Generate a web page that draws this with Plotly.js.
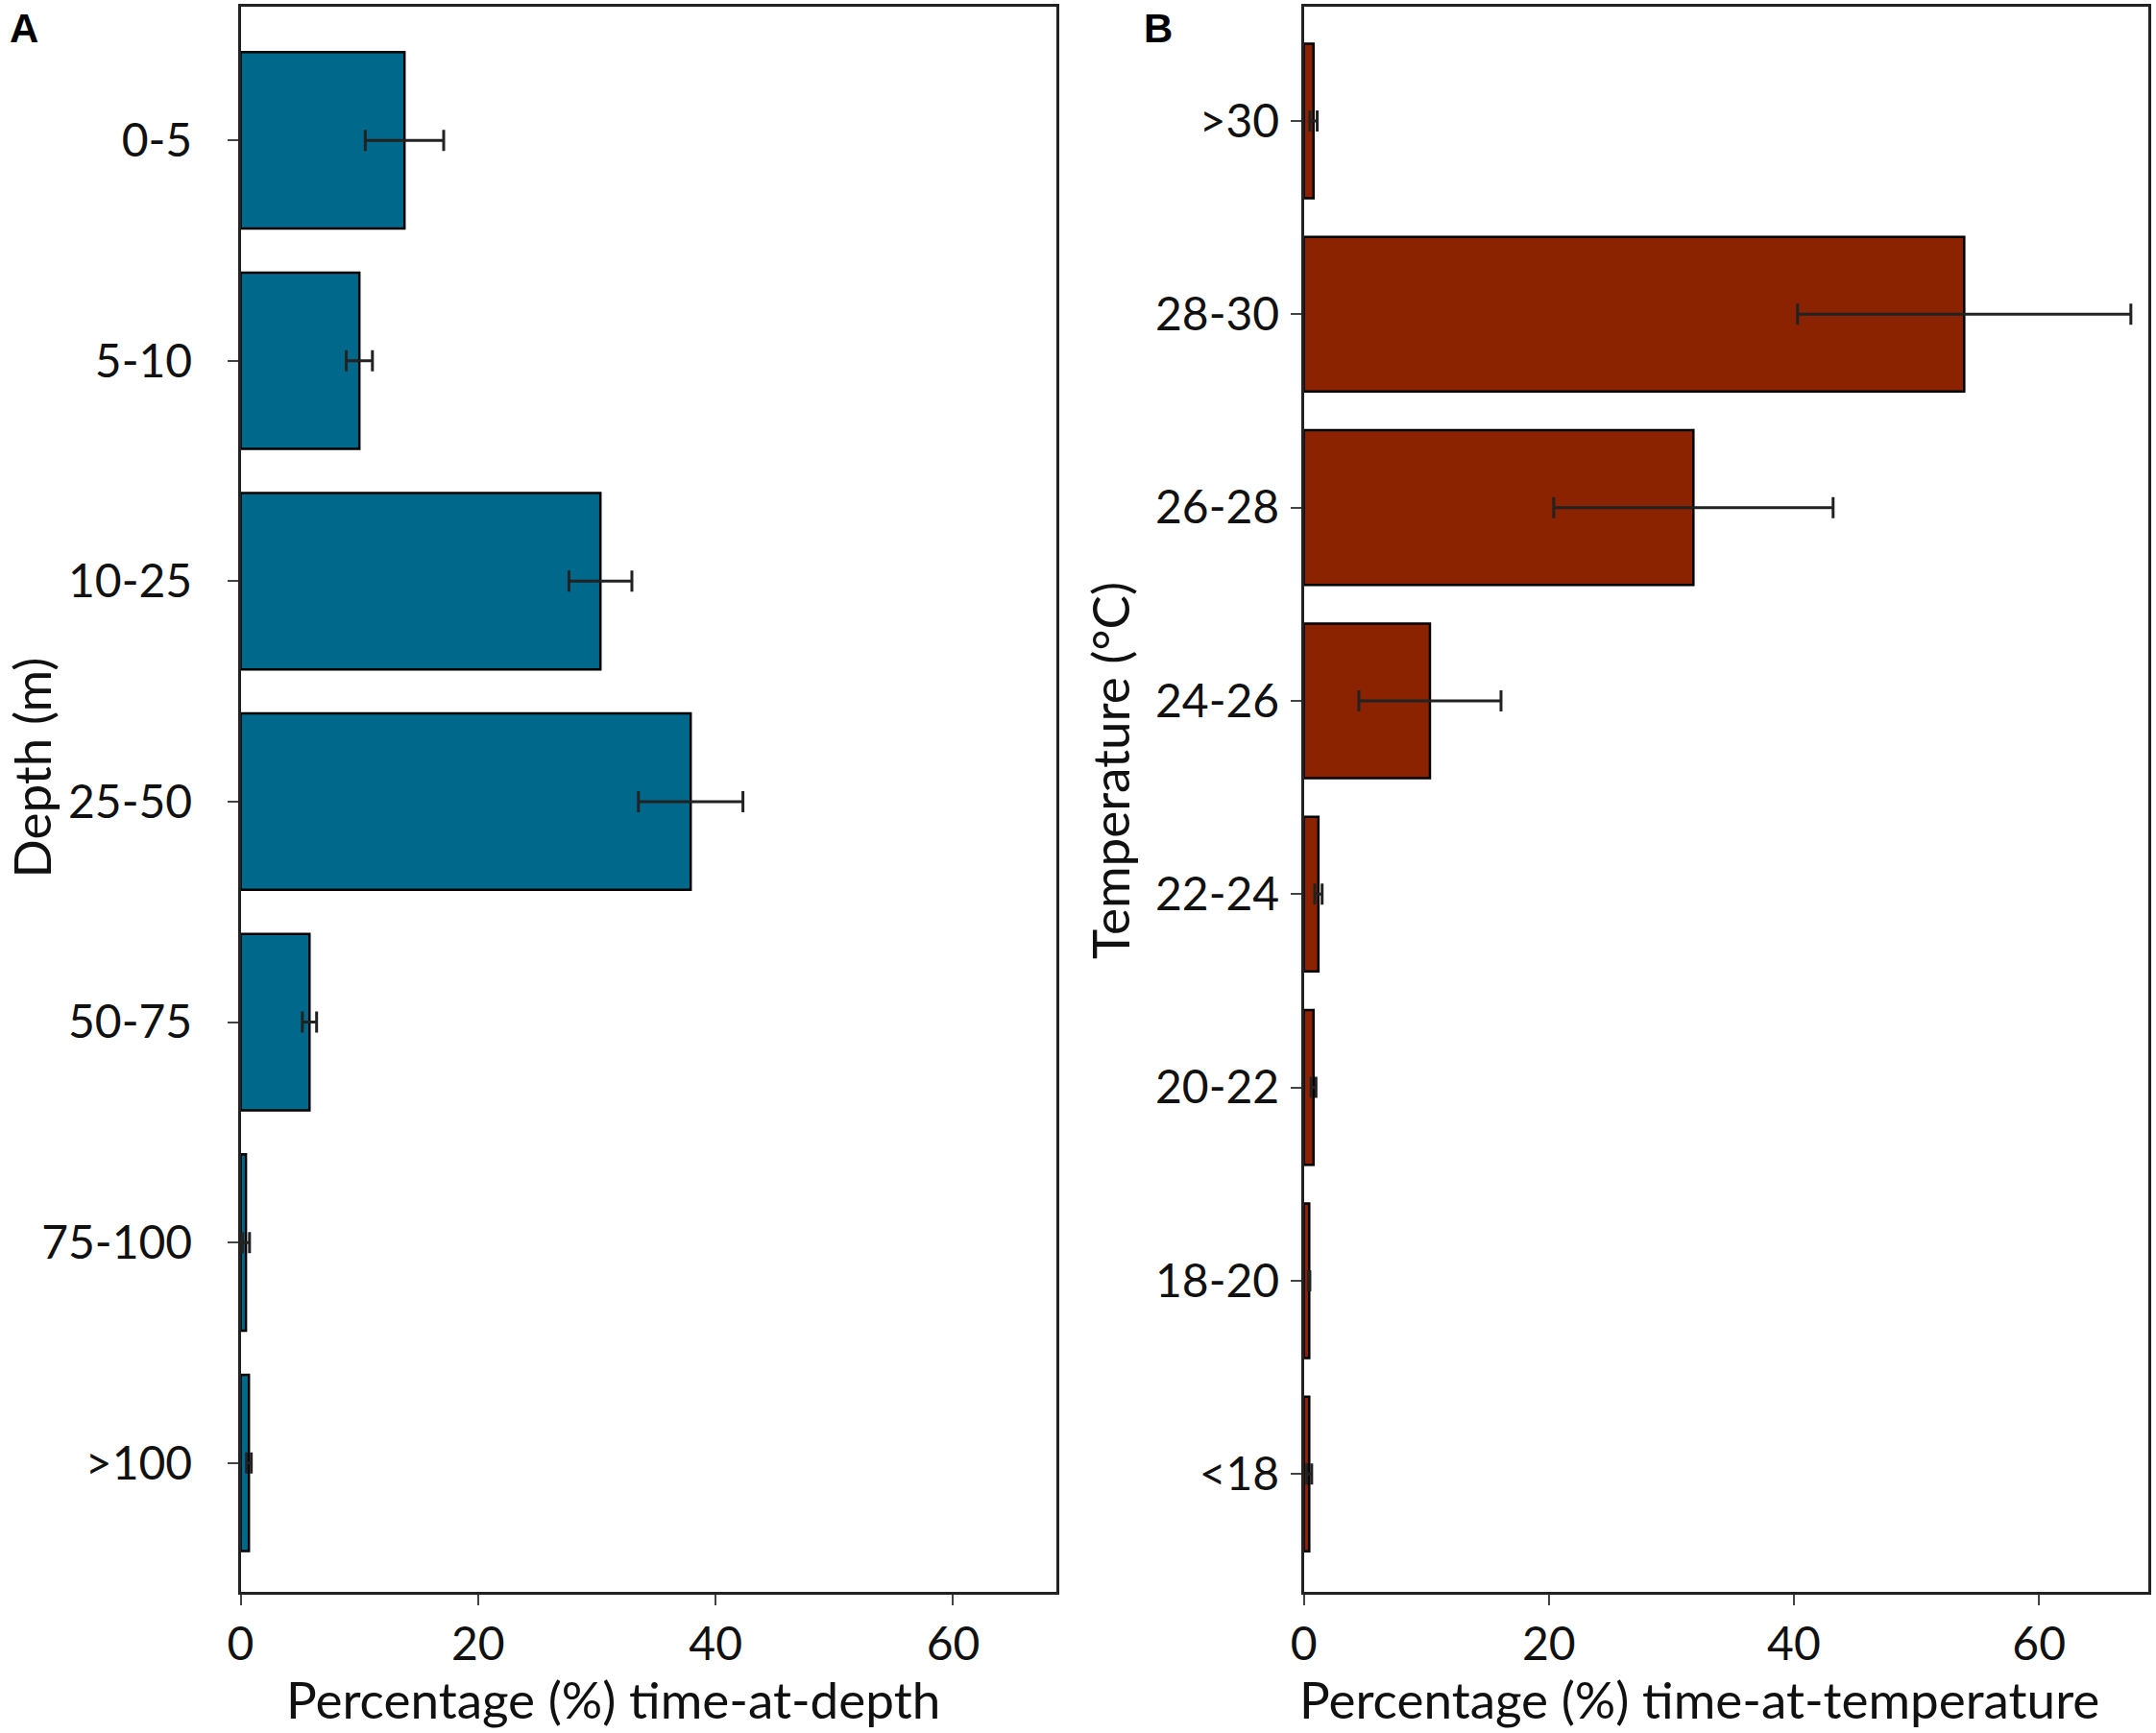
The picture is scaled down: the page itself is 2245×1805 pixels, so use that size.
<!DOCTYPE html>
<html>
<head>
<meta charset="utf-8">
<script src="https://cdn.plot.ly/plotly-3.0.1.min.js"></script>
<style>
  html, body { margin: 0; padding: 0; background: #fff; }
  #chart { width: 2245px; height: 1805px; }
</style>
</head>
<body>
<div id="chart"></div>
<script>
// Panel A: time-at-depth
const depth_bins = ['0-5', '5-10', '10-25', '25-50', '50-75', '75-100', '>100'];
const depth_pct = [13.8, 10.0, 30.3, 37.9, 5.8, 0.45, 0.7];
const depth_err = [3.3, 1.1, 2.65, 4.4, 0.6, 0.3, 0.2];

// Panel B: time-at-temperature
const temp_bins = ['>30', '28-30', '26-28', '24-26', '22-24', '20-22', '18-20', '<18'];
const temp_pct = [0.8, 53.9, 31.8, 10.3, 1.2, 0.8, 0.45, 0.45];
const temp_err = [0.3, 13.6, 11.4, 5.8, 0.3, 0.2, 0.05, 0.2];

const x_ticks = [0, 20, 40, 60];

const font_family = 'Lato, "Open Sans", sans-serif';
const ink = '#111';

function barTrace(cats, vals, errs, color, xa, ya) {
    return {
        type: 'bar',
        orientation: 'h',
        y: cats,
        x: vals,
        xaxis: xa,
        yaxis: ya,
        width: 0.8,
        marker: {color: color, line: {color: '#000', width: 2.5}},
        error_x: {type: 'data', array: errs, visible: true, color: '#222', thickness: 3, width: 11},
        hoverinfo: 'x+y',
        showlegend: false
    };
}

const frame = {
    showline: true, mirror: true, linecolor: '#222', linewidth: 2.5,
    ticks: 'outside', ticklen: 11, tickwidth: 2, tickcolor: '#444',
    showgrid: false, zeroline: false, fixedrange: true,
    tickfont: {family: font_family, size: 48, color: ink}
};

const data = [
    barTrace(depth_bins, depth_pct, depth_err, '#00688B', 'x', 'y'),
    barTrace(temp_bins, temp_pct, temp_err, '#8B2300', 'x2', 'y2')
];

const panel_font = {family: '"Liberation Sans", Arial, sans-serif', size: 42, color: '#000', weight: 'bold'};

const layout = {
    width: 2245,
    height: 1805,
    margin: {t: 0, l: 0, r: 0, b: 0},
    paper_bgcolor: '#fff',
    plot_bgcolor: '#fff',
    font: {family: font_family, color: ink},
    xaxis: Object.assign({}, frame, {
        domain: [0.1116, 0.49], range: [0, 68.7], tickvals: x_ticks, anchor: 'y'
    }),
    yaxis: Object.assign({}, frame, {
        domain: [0.0814, 0.996], type: 'category', categoryarray: depth_bins,
        range: [6.585, -0.605], ticklabelstandoff: 27, anchor: 'x'
    }),
    xaxis2: Object.assign({}, frame, {
        domain: [0.6047, 0.9963], range: [0, 68.9], tickvals: x_ticks, anchor: 'y2'
    }),
    yaxis2: Object.assign({}, frame, {
        domain: [0.0814, 0.996], type: 'category', categoryarray: temp_bins,
        range: [7.61, -0.59], ticklabelstandoff: 2, anchor: 'x2'
    }),
    annotations: [
        {text: 'A', x: 0.0111, y: 0.9834, xref: 'paper', yref: 'paper', xanchor: 'center', yanchor: 'middle',
         showarrow: false, font: panel_font},
        {text: 'B', x: 0.5372, y: 0.9834, xref: 'paper', yref: 'paper', xanchor: 'center', yanchor: 'middle',
         showarrow: false, font: panel_font},
        {text: 'Depth (m)', textangle: -90, x: 0.0145, y: 0.5568, xref: 'paper', yref: 'paper',
         xanchor: 'center', yanchor: 'middle', showarrow: false, font: {size: 53}},
        {text: 'Temperature (°C)', textangle: -90, x: 0.5149, y: 0.5557, xref: 'paper', yref: 'paper',
         xanchor: 'center', yanchor: 'middle', showarrow: false, font: {size: 53}},
        {text: 'Percentage (%) time-at-depth', x: 0.2842, y: 0.0194, xref: 'paper', yref: 'paper',
         xanchor: 'center', yanchor: 'middle', showarrow: false, font: {size: 53}},
        {text: 'Percentage (%) time-at-temperature', x: 0.788, y: 0.0194, xref: 'paper', yref: 'paper',
         xanchor: 'center', yanchor: 'middle', showarrow: false, font: {size: 53}}
    ]
};

Plotly.newPlot('chart', data, layout, {staticPlot: false, displayModeBar: false});
</script>
</body>
</html>
